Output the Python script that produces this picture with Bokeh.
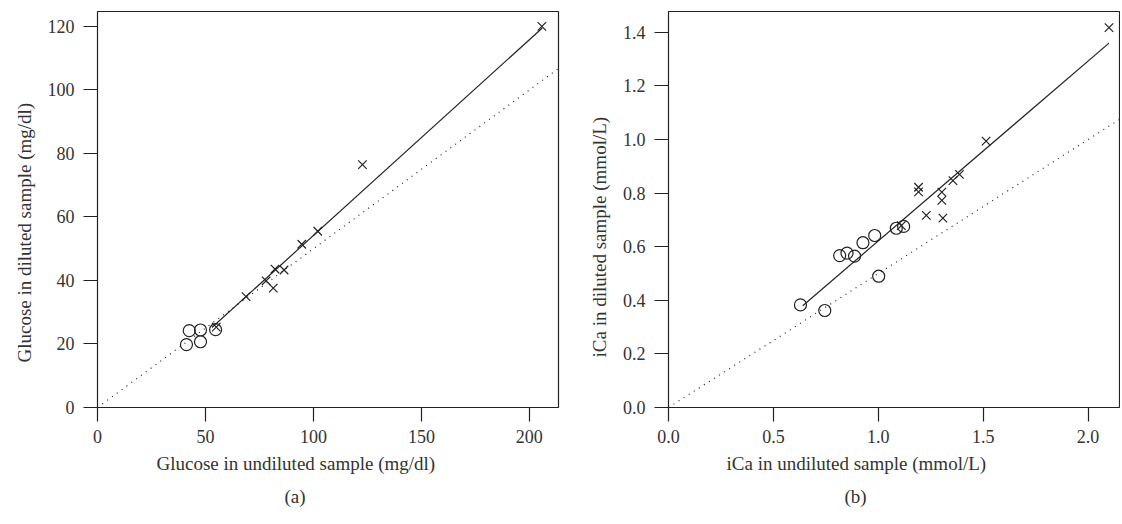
from bokeh.plotting import figure
from bokeh.models import Range1d, FixedTicker, Title, NumeralTickFormatter
from bokeh.layouts import row
from bokeh.embed import file_html
from bokeh.resources import INLINE

# ---------- data: panel (a) glucose ----------
glu_circ_x = [41.2, 42.5, 47.7, 47.7, 54.7]
glu_circ_y = [19.8, 24.2, 24.4, 20.7, 24.5]
glu_cross_x = [55.0, 68.8, 78.1, 82.2, 86.4, 81.4, 94.6, 102.0, 122.7, 205.8]
glu_cross_y = [25.3, 34.9, 39.9, 43.6, 43.3, 37.6, 51.4, 55.5, 76.5, 120.0]
glu_fit_x = [53.0, 206.0]
glu_fit_y = [25.2, 119.5]
glu_ref_x = [0.0, 214.0]
glu_ref_y = [0.0, 107.0]
glu_xticks = [0, 50, 100, 150, 200]
glu_yticks = [0, 20, 40, 60, 80, 100, 120]

# ---------- data: panel (b) iCa ----------
ica_circ_x = [0.629, 0.745, 0.816, 0.851, 0.887, 0.927, 0.983, 1.002, 1.086, 1.121]
ica_circ_y = [0.383, 0.362, 0.567, 0.576, 0.565, 0.615, 0.642, 0.490, 0.669, 0.676]
ica_cross_x = [1.11, 1.192, 1.192, 1.229, 1.303, 1.303, 1.308, 1.356, 1.387, 1.514, 2.10]
ica_cross_y = [0.679, 0.822, 0.805, 0.717, 0.804, 0.773, 0.707, 0.847, 0.870, 0.994, 1.418]
ica_fit_x = [0.64, 2.10]
ica_fit_y = [0.38, 1.36]
ica_ref_x = [0.0, 2.2]
ica_ref_y = [0.0, 1.1]
ica_xticks = [0.0, 0.5, 1.0, 1.5, 2.0]
ica_yticks = [0.0, 0.2, 0.4, 0.6, 0.8, 1.0, 1.2, 1.4]

FONT = "Liberation Serif"
INK = "#222222"
TXT = "#333333"


def make(width, bl, br, xr, yr, xt, yt, xlabel, ylabel, cap, fmt, yoff, xoff, capoff):
    p = figure(width=width, height=520, x_range=Range1d(*xr), y_range=Range1d(*yr),
               output_backend="svg", toolbar_location=None,
               min_border_left=bl, min_border_right=br, min_border_top=11, min_border_bottom=113)
    p.grid.visible = False
    p.outline_line_color = INK
    p.outline_line_width = 1.2
    p.outline_line_alpha = 1
    p.background_fill_color = "white"
    p.border_fill_color = "white"
    for ax in (p.xaxis[0], p.yaxis[0]):
        ax.axis_line_color = None
        ax.major_tick_line_color = INK
        ax.major_tick_line_width = 1.2
        ax.major_tick_out = 14
        ax.major_tick_in = 0
        ax.minor_tick_line_color = None
        ax.major_label_text_font = FONT
        ax.major_label_text_font_size = "18px"
        ax.major_label_text_color = TXT
    p.xaxis[0].ticker = FixedTicker(ticks=xt)
    p.yaxis[0].ticker = FixedTicker(ticks=yt)
    if fmt:
        p.xaxis[0].formatter = NumeralTickFormatter(format="0.0")
        p.yaxis[0].formatter = NumeralTickFormatter(format="0.0")
    p.xaxis[0].major_label_standoff = 8
    p.yaxis[0].major_label_standoff = 9
    p.add_layout(Title(text=ylabel, align="left", vertical_align="top", offset=yoff,
                       text_font=FONT, text_font_size="19px", text_font_style="normal",
                       text_color=TXT, standoff=16), "left")
    p.add_layout(Title(text=xlabel, align="left", offset=xoff, text_font=FONT, text_font_size="19px",
                       text_font_style="normal", text_color=TXT, standoff=10), "below")
    p.add_layout(Title(text=cap, align="left", offset=capoff, text_font=FONT, text_font_size="19px",
                       text_font_style="normal", text_color=TXT, standoff=11), "below")
    return p


p1 = make(568, 97, 10, (0, 213.5), (0, 124.7), glu_xticks, glu_yticks,
          "Glucose in undiluted sample (mg/dl)", "Glucose in diluted sample (mg/dl)", "(a)", False,
          45, 59, 187)
p1.line(glu_ref_x, glu_ref_y, line_color=INK, line_width=1.2, line_dash="1 5")
p1.line(glu_fit_x, glu_fit_y, line_color=INK, line_width=1.2)
p1.scatter(glu_circ_x, glu_circ_y, marker="circle", size=12, fill_color=None, line_color=INK, line_width=1.2)
p1.scatter(glu_cross_x, glu_cross_y, marker="x", size=12, line_color=INK, line_width=1.2)

p2 = make(552, 100, 1, (0, 2.15), (0, 1.478), ica_xticks, ica_yticks,
          "iCa in undiluted sample (mmol/L)", "iCa in diluted sample (mmol/L)", "(b)", True,
          50, 58, 176)
p2.line(ica_ref_x, ica_ref_y, line_color=INK, line_width=1.2, line_dash="1 5")
p2.line(ica_fit_x, ica_fit_y, line_color=INK, line_width=1.2)
p2.scatter(ica_circ_x, ica_circ_y, marker="circle", size=12, fill_color=None, line_color=INK, line_width=1.2)
p2.scatter(ica_cross_x, ica_cross_y, marker="x", size=12, line_color=INK, line_width=1.2)

layout = row(p1, p2)
open("out.html", "w").write(file_html(layout, INLINE))
